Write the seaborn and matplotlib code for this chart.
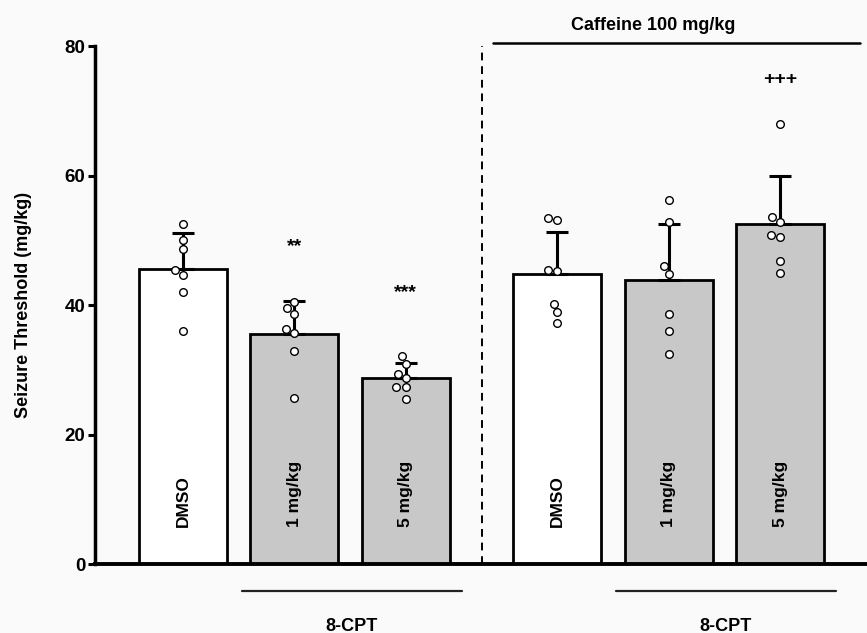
import numpy as np
import pandas as pd
import matplotlib
matplotlib.use("Agg")
import matplotlib.pyplot as plt
import seaborn as sns

# individual animals (mg/kg)
dmso      = [52.5, 50.1, 48.6, 45.4, 44.7, 42.0, 36.0]
cpt_1     = [40.5, 39.5, 38.7, 36.3, 35.7, 32.9, 25.6]
cpt_5     = [32.2, 30.9, 29.4, 28.7, 27.3, 27.3, 25.5]
caf_dmso  = [53.4, 53.2, 45.3, 45.4, 40.2, 38.9, 37.3]
caf_cpt_1 = [56.2, 52.9, 46.0, 44.8, 38.7, 36.0, 32.5]
caf_cpt_5 = [68.0, 53.6, 52.8, 50.9, 50.5, 46.8, 44.9]

bar_labels = ["DMSO", "1 mg/kg", "5 mg/kg", "DMSO", "1 mg/kg", "5 mg/kg"]
fills      = ["DMSO", "CPT", "CPT", "DMSO", "CPT", "CPT"]
groups     = [0, 0, 0, 1, 1, 1]
signif     = ["", "**", "***", "", "", "+++"]
signif_y   = [0, 48.4, 41.2, 0, 0, 74.2]

GAP = 0.36   # extra space between the two halves
series = [dmso, cpt_1, cpt_5, caf_dmso, caf_cpt_1, caf_cpt_5]
pos = [i + g * GAP for i, g in enumerate(groups)]

rows = []
for p, f, vals in zip(pos, fills, series):
    for v in vals:
        rows.append({"pos": p, "fill": f, "value": v})
df = pd.DataFrame(rows)

sns.set_style("ticks")
plt.rcParams["font.family"] = ["Liberation Sans", "DejaVu Sans"]
plt.rcParams.update({"text.color": "black", "axes.labelcolor": "black",
                     "xtick.color": "black", "ytick.color": "black",
                     "axes.edgecolor": "black"})

fig = plt.figure(figsize=(8.67, 6.33), dpi=100, facecolor="#fafafa")
ax = fig.add_axes([0.1096, 0.109, 0.8892, 0.818])
ax.set_facecolor("#fafafa")

sns.barplot(data=df, x="pos", y="value", hue="fill", native_scale=True,
            palette={"DMSO": "white", "CPT": "#c8c8c8"}, dodge=False,
            width=0.79, errorbar=None, edgecolor="black", linewidth=2,
            legend=False, ax=ax)

# upper SD only
stats = df.groupby("pos")["value"].agg(["mean", "std"])
ax.errorbar(stats.index, stats["mean"],
            yerr=[np.zeros(len(stats)), stats["std"]],
            fmt="none", ecolor="black", elinewidth=2.2, capsize=8,
            capthick=2.2, zorder=3)

sns.swarmplot(data=df, x="pos", y="value", native_scale=True, color="white",
              edgecolor="black", linewidth=1, size=5.5, zorder=4, ax=ax)

for p, lab, s, sy in zip(pos, bar_labels, signif, signif_y):
    ax.text(p, 5.7, lab, rotation=90, ha="center", va="bottom",
            fontsize=12.5, fontweight="bold")
    if s:
        ax.text(p, sy, s, ha="center", va="baseline", fontsize=14,
                fontweight="bold")

# divider between the two halves
mid = (pos[2] + pos[3]) / 2
ax.plot([mid, mid], [0, 80], color="black", lw=1.4, ls=(0, (4, 3)))

# caffeine bracket
ax.plot([2.78, 6.08], [80.5, 80.5], color="black", lw=1.8, clip_on=False)
ax.text(4.22, 83.2, "Caffeine 100 mg/kg", ha="center", va="center",
        fontsize=13, fontweight="bold")

# 8-CPT lines under the axis
for a, b in [(1, 2), (4, 5)]:
    ax.plot([pos[a] - 0.47, pos[b] + 0.5], [-4.1, -4.1], color="#222222",
            lw=1.6, clip_on=False)
    ax.text((pos[a] + pos[b]) / 2 + 0.01, -8.3, "8-CPT", ha="center",
            va="top", fontsize=13, fontweight="bold")

ax.set_xlim(-0.79, 6.13)
ax.set_ylim(0, 80)
ax.set_yticks([0, 20, 40, 60, 80])
ax.set_xticks([])
ax.set_xlabel("")
ax.set_ylabel("Seizure Threshold (mg/kg)", fontsize=13, fontweight="bold")
ax.yaxis.set_label_coords(-0.082, 0.5)
for lab in ax.get_yticklabels():
    lab.set_fontweight("bold")
ax.tick_params(axis="y", labelsize=13.5, width=2.2, length=5, pad=2)
sns.despine(ax=ax)
ax.spines["left"].set_linewidth(2.5)
ax.spines["bottom"].set_linewidth(2.8)

fig.savefig("out.png", dpi=100, facecolor=fig.get_facecolor())
